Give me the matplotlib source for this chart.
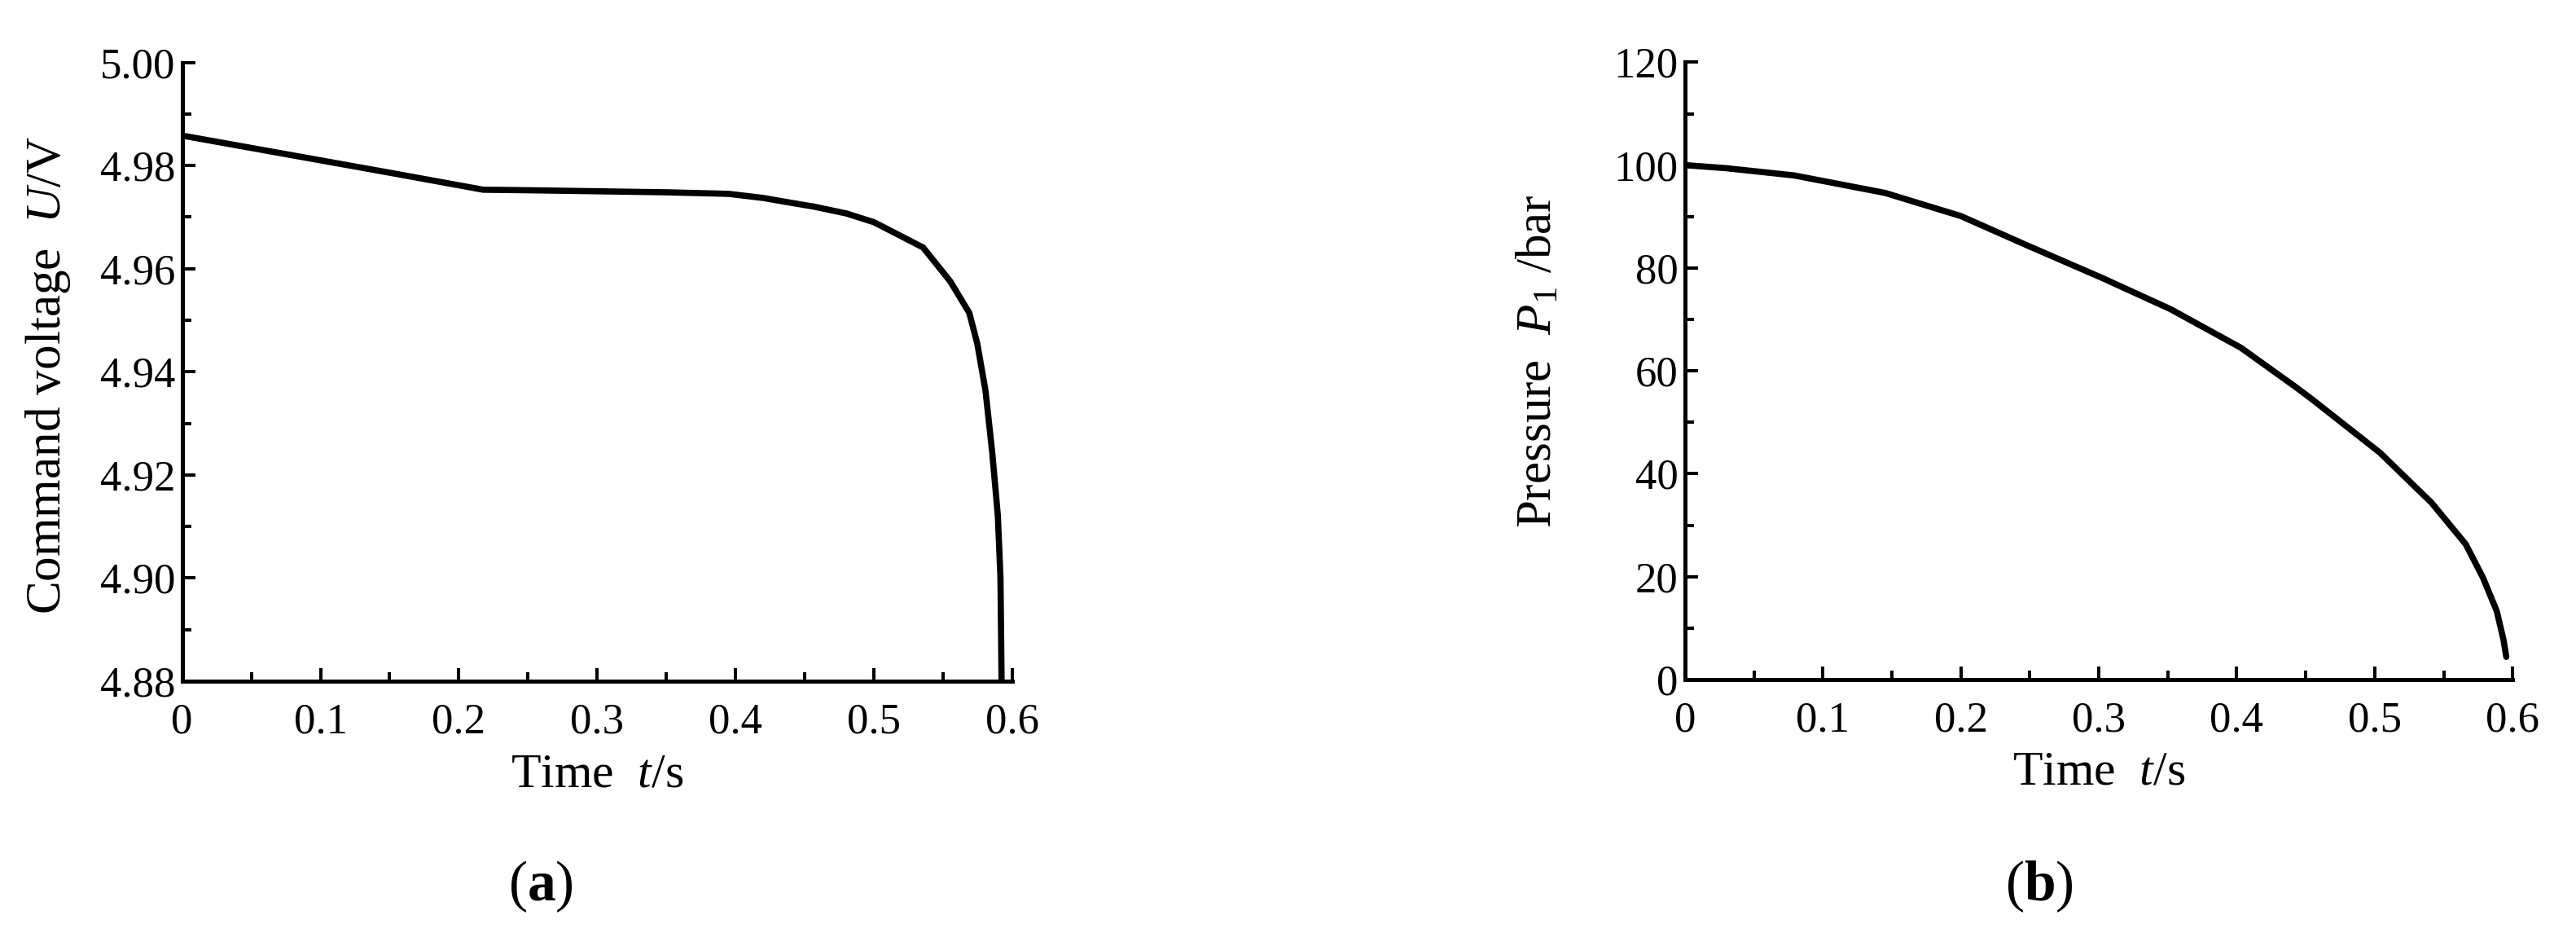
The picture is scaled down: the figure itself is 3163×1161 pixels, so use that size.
import numpy as np
import matplotlib
matplotlib.use("Agg")
import matplotlib.pyplot as plt
from matplotlib.ticker import MultipleLocator, FixedLocator, FixedFormatter

plt.rcParams['font.family'] = ['Liberation Serif', 'DejaVu Serif']
plt.rcParams['mathtext.fontset'] = 'custom'
plt.rcParams['mathtext.rm'] = 'Liberation Serif'
plt.rcParams['mathtext.it'] = 'Liberation Serif:italic'
plt.rcParams['mathtext.bf'] = 'Liberation Serif:bold'

# (a) command voltage
t_a = [0, 0.05, 0.10, 0.15, 0.2176, 0.25, 0.30, 0.35, 0.395, 0.42, 0.435, 0.457,
       0.48, 0.50, 0.5355, 0.5552, 0.5689, 0.5747, 0.5806, 0.5855, 0.5895, 0.5914, 0.5924]
u_a = [4.9858, 4.9834, 4.9810, 4.9786, 4.9753, 4.9752, 4.9750, 4.9748, 4.9745, 4.9737,
       4.9730, 4.9720, 4.9707, 4.9690, 4.9641, 4.9575, 4.9514, 4.9454, 4.9363, 4.9242,
       4.9121, 4.9001, 4.8750]

# (b) pressure P1
t_b = [0, 0.03, 0.079, 0.145, 0.20, 0.248, 0.303, 0.352, 0.403, 0.442, 0.454,
       0.5038, 0.5411, 0.5660, 0.5785, 0.5885, 0.5934, 0.5954]
p_b = [100, 99.4, 98.0, 94.6, 90.1, 84.4, 78.0, 72.0, 64.5, 57.0, 54.6,
       44.1, 34.4, 26.3, 19.8, 13.3, 7.7, 4.4]

x_ticks = [0, 0.1, 0.2, 0.3, 0.4, 0.5, 0.6]
x_labels = ["0", "0.1", "0.2", "0.3", "0.4", "0.5", "0.6"]
u_ticks = [4.88, 4.90, 4.92, 4.94, 4.96, 4.98, 5.00]
u_labels = ["4.88", "4.90", "4.92", "4.94", "4.96", "4.98", "5.00"]
p_ticks = [0, 20, 40, 60, 80, 100, 120]
p_labels = ["0", "20", "40", "60", "80", "100", "120"]

fig = plt.figure(figsize=(31.63, 11.61), dpi=100)
ax1 = fig.add_axes([0.0707, 0.2799, 0.3223, 0.6542])
ax2 = fig.add_axes([0.6541, 0.2817, 0.3213, 0.6525])


def estilo(ax, yticks, ylabels, yminor, xminor=0.05):
    for lado in ["top", "right"]:
        ax.spines[lado].set_visible(False)
    for lado in ["left", "bottom"]:
        ax.spines[lado].set_linewidth(3.6)
    ax.xaxis.set_major_locator(FixedLocator(x_ticks))
    ax.xaxis.set_major_formatter(FixedFormatter(x_labels))
    ax.xaxis.set_minor_locator(MultipleLocator(xminor))
    ax.yaxis.set_major_locator(FixedLocator(yticks))
    ax.yaxis.set_major_formatter(FixedFormatter(ylabels))
    ax.yaxis.set_minor_locator(MultipleLocator(yminor))
    ax.tick_params(which="both", direction="in", width=2.9, top=False, right=False,
                   labelsize=38)
    ax.tick_params(which="major", length=11.5)
    ax.tick_params(which="minor", length=8)
    ax.tick_params(axis="x", which="major", pad=19)
    ax.tick_params(axis="y", which="major", pad=6)
    ax.set_xlim(0, 0.6)
    ax.set_ylim(yticks[0], yticks[-1])


ax1.plot(t_a, u_a, color="black", linewidth=5.5)
estilo(ax1, u_ticks, u_labels, 0.01)
ax1.set_xlabel("Time  $t$/s", fontsize=43)
ax1.set_ylabel("Command voltage  $U$/V", fontsize=44)
ax1.xaxis.set_label_coords(0.5, -0.116)
ax1.yaxis.set_label_coords(-0.132, 0.495)

ax2.plot(t_b, p_b, color="black", linewidth=5.5, solid_capstyle="round")
estilo(ax2, p_ticks, p_labels, 10)
ax2.set_xlabel("Time  $t$/s", fontsize=43)
ax2.set_ylabel("Pressure  $P_{\\mathrm{1}}$ /bar", fontsize=44)
ax2.xaxis.set_label_coords(0.5, -0.116)
ax2.yaxis.set_label_coords(-0.149, 0.516)

fig.text(664 / 3163, 1 - 1088 / 1161, "($\\mathbf{a}$)", fontsize=50,
         ha="center", va="center")
fig.text(2504 / 3163, 1 - 1088 / 1161, "($\\mathbf{b}$)", fontsize=50,
         ha="center", va="center")

fig.savefig("out.png", dpi=100)
